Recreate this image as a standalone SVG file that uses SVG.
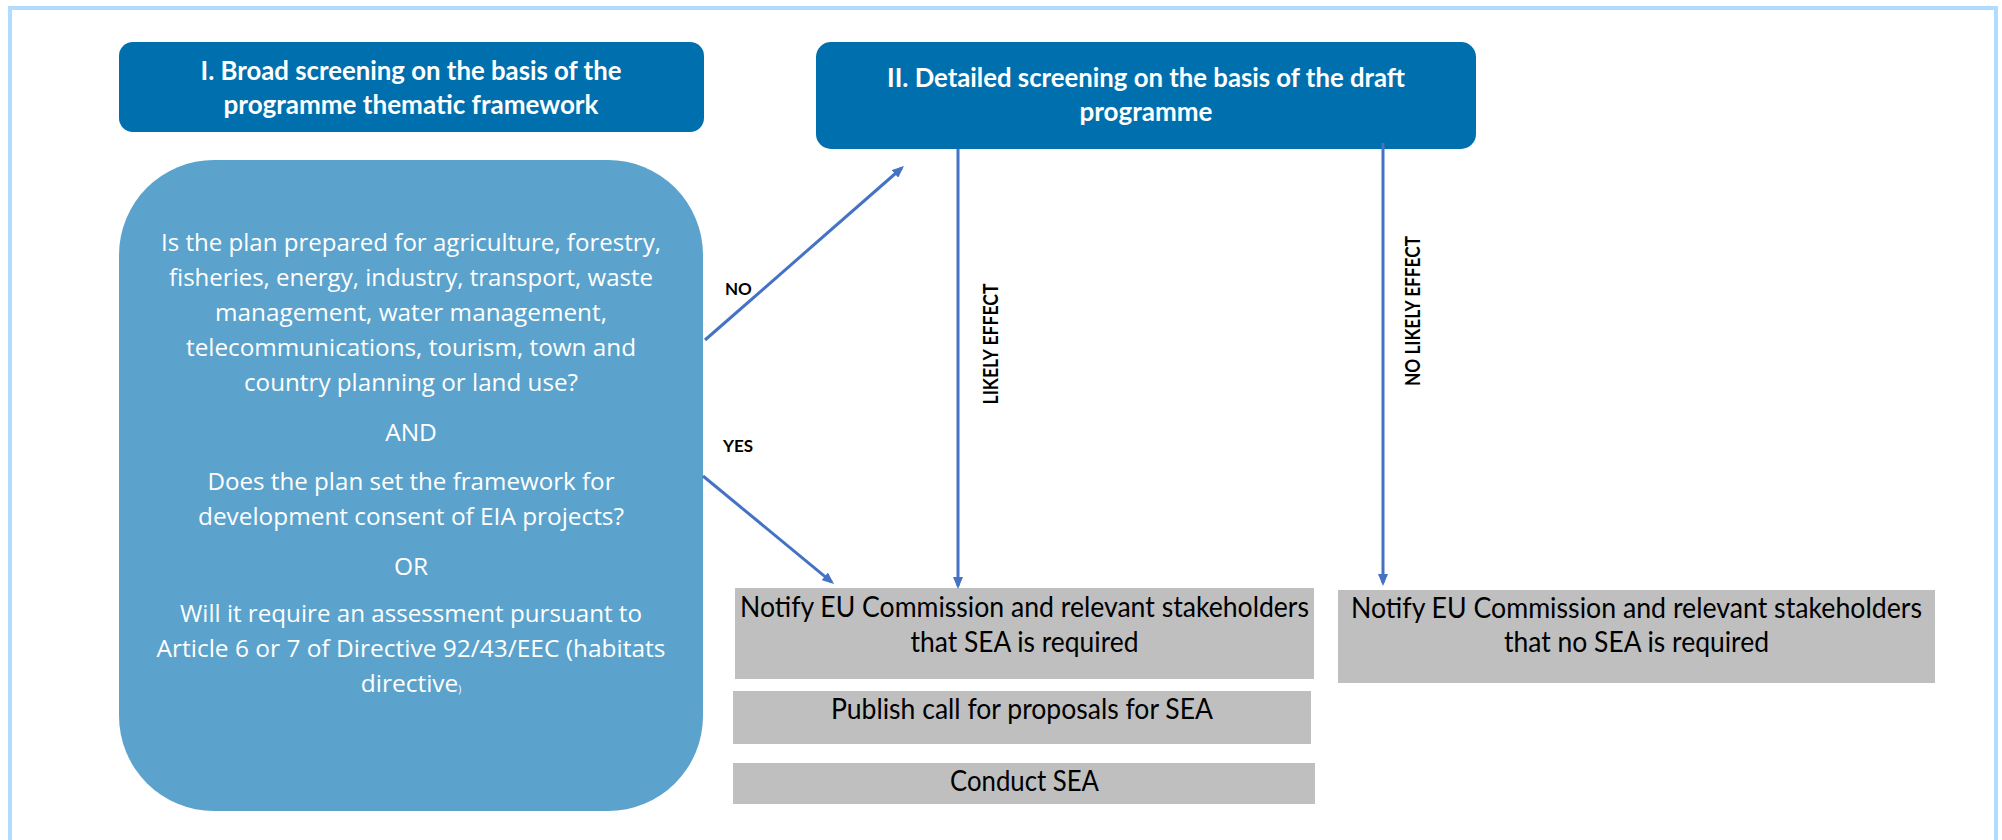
<svg xmlns="http://www.w3.org/2000/svg" width="2002" height="840" viewBox="0 0 2002 840">
  <defs>
    <marker id="arrow" markerUnits="userSpaceOnUse" markerWidth="12" markerHeight="10" refX="9" refY="5" orient="auto">
      <path d="M0,0 L12,5 L0,10 z" fill="#4472c4"/>
    </marker>
    <style>
      .hdr { fill: #006fad; }
      .hdrt { font-family: Lato, "Liberation Sans", sans-serif; font-weight: 700; font-size: 26px; fill: #ffffff; text-anchor: middle; }
      .q { fill: #5ba3cc; }
      .qt { font-family: "Open Sans", "Liberation Sans", sans-serif; font-size: 24.5px; fill: #ffffff; text-anchor: middle; }
      .gray { fill: #bfbfbf; }
      .gt { font-family: Lato, "Liberation Sans", sans-serif; font-size: 28px; fill: #000000; text-anchor: middle; }
      .lbl { font-family: Lato, "Liberation Sans", sans-serif; font-weight: 700; font-size: 17px; fill: #000000; }
      .vlbl { font-family: Lato, "Liberation Sans", sans-serif; font-weight: 700; font-size: 20px; fill: #000000; text-anchor: middle; }
      .conn { stroke: #4472c4; stroke-width: 3; fill: none; marker-end: url(#arrow); }
    </style>
  </defs>

  <rect x="0" y="0" width="2002" height="840" fill="#ffffff"/>
  <path d="M10,840 V8 H1996 V840" fill="none" stroke="#b1dcfe" stroke-width="4"/>

  <g id="node-broad-screening">
    <rect class="hdr" x="119" y="42" width="585" height="90" rx="14"/>
    <text class="hdrt" x="411" y="80" textLength="421" lengthAdjust="spacingAndGlyphs">I. Broad screening on the basis of the</text>
    <text class="hdrt" x="411" y="114" textLength="375" lengthAdjust="spacingAndGlyphs">programme thematic framework</text>
  </g>

  <g id="node-detailed-screening">
    <rect class="hdr" x="816" y="42" width="660" height="107" rx="15"/>
    <text class="hdrt" x="1146" y="87" textLength="518" lengthAdjust="spacingAndGlyphs">II. Detailed screening on the basis of the draft</text>
    <text class="hdrt" x="1146" y="121" textLength="133" lengthAdjust="spacingAndGlyphs">programme</text>
  </g>

  <g id="node-question">
    <rect class="q" x="119" y="160" width="584" height="651" rx="95"/>
    <text class="qt" x="411" y="251" textLength="500" lengthAdjust="spacingAndGlyphs">Is the plan prepared for agriculture, forestry,</text>
    <text class="qt" x="411" y="286" textLength="484" lengthAdjust="spacingAndGlyphs">fisheries, energy, industry, transport, waste</text>
    <text class="qt" x="411" y="321" textLength="392" lengthAdjust="spacingAndGlyphs">management, water management,</text>
    <text class="qt" x="411" y="356" textLength="450" lengthAdjust="spacingAndGlyphs">telecommunications, tourism, town and</text>
    <text class="qt" x="411" y="391" textLength="334" lengthAdjust="spacingAndGlyphs">country planning or land use?</text>
    <text class="qt" x="411" y="441">AND</text>
    <text class="qt" x="411" y="490" textLength="407" lengthAdjust="spacingAndGlyphs">Does the plan set the framework for</text>
    <text class="qt" x="411" y="525" textLength="426" lengthAdjust="spacingAndGlyphs">development consent of EIA projects?</text>
    <text class="qt" x="411" y="575">OR</text>
    <text class="qt" x="411" y="622" textLength="462" lengthAdjust="spacingAndGlyphs">Will it require an assessment pursuant to</text>
    <text class="qt" x="411" y="657" textLength="509" lengthAdjust="spacingAndGlyphs">Article 6 or 7 of Directive 92/43/EEC (habitats</text>
    <text class="qt" x="411" y="692">directive<tspan font-size="10" dy="1">)</tspan></text>
  </g>

  <g id="node-notify-required">
    <rect class="gray" x="735" y="588" width="579" height="91"/>
    <text class="gt" x="1024.5" y="617" textLength="569" lengthAdjust="spacingAndGlyphs">Notify EU Commission and relevant stakeholders</text>
    <text class="gt" x="1024.5" y="652" textLength="228" lengthAdjust="spacingAndGlyphs">that SEA is required</text>
  </g>

  <g id="node-publish-call">
    <rect class="gray" x="733" y="691" width="578" height="53"/>
    <text class="gt" x="1022" y="719" textLength="382" lengthAdjust="spacingAndGlyphs">Publish call for proposals for SEA</text>
  </g>

  <g id="node-conduct-sea">
    <rect class="gray" x="733" y="763" width="582" height="41"/>
    <text class="gt" x="1024.5" y="791" textLength="149" lengthAdjust="spacingAndGlyphs">Conduct SEA</text>
  </g>

  <g id="node-notify-not-required">
    <rect class="gray" x="1338" y="590" width="597" height="93"/>
    <text class="gt" x="1636.5" y="618" textLength="571" lengthAdjust="spacingAndGlyphs">Notify EU Commission and relevant stakeholders</text>
    <text class="gt" x="1636.5" y="652" textLength="265" lengthAdjust="spacingAndGlyphs">that no SEA is required</text>
  </g>

  <g id="connectors">
    <line class="conn" x1="705" y1="340" x2="901.7" y2="168"/>
    <line class="conn" x1="703" y1="476" x2="831.7" y2="582.1"/>
    <line class="conn" x1="958" y1="149" x2="958" y2="586"/>
    <line class="conn" x1="1383" y1="143" x2="1383" y2="583"/>
    <text class="lbl" x="725" y="295">NO</text>
    <text class="lbl" x="723" y="452">YES</text>
    <text class="vlbl" transform="translate(998,344) rotate(-90)" textLength="121" lengthAdjust="spacingAndGlyphs">LIKELY EFFECT</text>
    <text class="vlbl" transform="translate(1420,311) rotate(-90)" textLength="150" lengthAdjust="spacingAndGlyphs">NO LIKELY EFFECT</text>
  </g>
</svg>
